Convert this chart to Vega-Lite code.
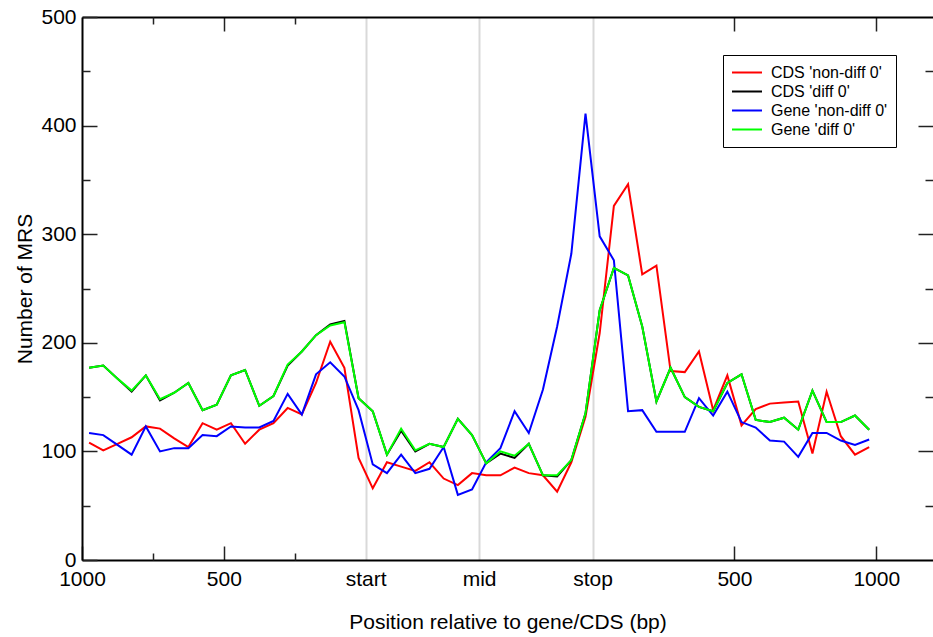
{
  "$schema": "https://vega.github.io/schema/vega-lite/v6.json",
  "width": 851,
  "height": 543,
  "autosize": {"type": "none"},
  "padding": {"left": 82, "top": 17, "right": 0, "bottom": 77},
  "background": "white",
  "config": {
    "view": {"stroke": null},
    "font": "Liberation Sans",
    "axis": {"labelFont": "Liberation Sans", "titleFont": "Liberation Sans", "labelColor": "black", "titleColor": "black", "titleFontWeight": "normal", "labelFlush": false, "labelOverlap": false, "domainColor": "black", "domainWidth": 2, "tickColor": "#222", "tickWidth": 1.5, "grid": false}
  },
  "datasets": {
    "d": []
  },
  "data": {
    "values": [
      {"s": "CDS 'non-diff 0'", "p": 0.5, "v": 108}, {"s": "CDS 'non-diff 0'", "p": 1.5, "v": 101}, {"s": "CDS 'non-diff 0'", "p": 2.5, "v": 107}, {"s": "CDS 'non-diff 0'", "p": 3.5, "v": 113}, {"s": "CDS 'non-diff 0'", "p": 4.5, "v": 123}, {"s": "CDS 'non-diff 0'", "p": 5.5, "v": 121}, {"s": "CDS 'non-diff 0'", "p": 6.5, "v": 112}, {"s": "CDS 'non-diff 0'", "p": 7.5, "v": 104}, {"s": "CDS 'non-diff 0'", "p": 8.5, "v": 126}, {"s": "CDS 'non-diff 0'", "p": 9.5, "v": 120},
      {"s": "CDS 'non-diff 0'", "p": 10.5, "v": 126}, {"s": "CDS 'non-diff 0'", "p": 11.5, "v": 107}, {"s": "CDS 'non-diff 0'", "p": 12.5, "v": 120}, {"s": "CDS 'non-diff 0'", "p": 13.5, "v": 126}, {"s": "CDS 'non-diff 0'", "p": 14.5, "v": 140}, {"s": "CDS 'non-diff 0'", "p": 15.5, "v": 134}, {"s": "CDS 'non-diff 0'", "p": 16.5, "v": 163}, {"s": "CDS 'non-diff 0'", "p": 17.5, "v": 201}, {"s": "CDS 'non-diff 0'", "p": 18.5, "v": 177}, {"s": "CDS 'non-diff 0'", "p": 19.5, "v": 94},
      {"s": "CDS 'non-diff 0'", "p": 20.5, "v": 66}, {"s": "CDS 'non-diff 0'", "p": 21.5, "v": 90}, {"s": "CDS 'non-diff 0'", "p": 22.5, "v": 86}, {"s": "CDS 'non-diff 0'", "p": 23.5, "v": 82}, {"s": "CDS 'non-diff 0'", "p": 24.5, "v": 90}, {"s": "CDS 'non-diff 0'", "p": 25.5, "v": 75}, {"s": "CDS 'non-diff 0'", "p": 26.5, "v": 69}, {"s": "CDS 'non-diff 0'", "p": 27.5, "v": 80}, {"s": "CDS 'non-diff 0'", "p": 28.5, "v": 78}, {"s": "CDS 'non-diff 0'", "p": 29.5, "v": 78},
      {"s": "CDS 'non-diff 0'", "p": 30.5, "v": 85}, {"s": "CDS 'non-diff 0'", "p": 31.5, "v": 80}, {"s": "CDS 'non-diff 0'", "p": 32.5, "v": 78}, {"s": "CDS 'non-diff 0'", "p": 33.5, "v": 63}, {"s": "CDS 'non-diff 0'", "p": 34.5, "v": 90}, {"s": "CDS 'non-diff 0'", "p": 35.5, "v": 132}, {"s": "CDS 'non-diff 0'", "p": 36.5, "v": 209}, {"s": "CDS 'non-diff 0'", "p": 37.5, "v": 326}, {"s": "CDS 'non-diff 0'", "p": 38.5, "v": 346}, {"s": "CDS 'non-diff 0'", "p": 39.5, "v": 263},
      {"s": "CDS 'non-diff 0'", "p": 40.5, "v": 271}, {"s": "CDS 'non-diff 0'", "p": 41.5, "v": 174}, {"s": "CDS 'non-diff 0'", "p": 42.5, "v": 173}, {"s": "CDS 'non-diff 0'", "p": 43.5, "v": 192}, {"s": "CDS 'non-diff 0'", "p": 44.5, "v": 138}, {"s": "CDS 'non-diff 0'", "p": 45.5, "v": 170}, {"s": "CDS 'non-diff 0'", "p": 46.5, "v": 124}, {"s": "CDS 'non-diff 0'", "p": 47.5, "v": 139}, {"s": "CDS 'non-diff 0'", "p": 48.5, "v": 144}, {"s": "CDS 'non-diff 0'", "p": 49.5, "v": 145},
      {"s": "CDS 'non-diff 0'", "p": 50.5, "v": 146}, {"s": "CDS 'non-diff 0'", "p": 51.5, "v": 98}, {"s": "CDS 'non-diff 0'", "p": 52.5, "v": 155}, {"s": "CDS 'non-diff 0'", "p": 53.5, "v": 114}, {"s": "CDS 'non-diff 0'", "p": 54.5, "v": 97}, {"s": "CDS 'non-diff 0'", "p": 55.5, "v": 104},

      {"s": "CDS 'diff 0'", "p": 0.5, "v": 177}, {"s": "CDS 'diff 0'", "p": 1.5, "v": 179}, {"s": "CDS 'diff 0'", "p": 2.5, "v": 167}, {"s": "CDS 'diff 0'", "p": 3.5, "v": 155}, {"s": "CDS 'diff 0'", "p": 4.5, "v": 170}, {"s": "CDS 'diff 0'", "p": 5.5, "v": 147}, {"s": "CDS 'diff 0'", "p": 6.5, "v": 154}, {"s": "CDS 'diff 0'", "p": 7.5, "v": 163}, {"s": "CDS 'diff 0'", "p": 8.5, "v": 138}, {"s": "CDS 'diff 0'", "p": 9.5, "v": 143},
      {"s": "CDS 'diff 0'", "p": 10.5, "v": 170}, {"s": "CDS 'diff 0'", "p": 11.5, "v": 175}, {"s": "CDS 'diff 0'", "p": 12.5, "v": 142}, {"s": "CDS 'diff 0'", "p": 13.5, "v": 151}, {"s": "CDS 'diff 0'", "p": 14.5, "v": 179}, {"s": "CDS 'diff 0'", "p": 15.5, "v": 192}, {"s": "CDS 'diff 0'", "p": 16.5, "v": 207}, {"s": "CDS 'diff 0'", "p": 17.5, "v": 217}, {"s": "CDS 'diff 0'", "p": 18.5, "v": 220}, {"s": "CDS 'diff 0'", "p": 19.5, "v": 149},
      {"s": "CDS 'diff 0'", "p": 20.5, "v": 137}, {"s": "CDS 'diff 0'", "p": 21.5, "v": 97}, {"s": "CDS 'diff 0'", "p": 22.5, "v": 119}, {"s": "CDS 'diff 0'", "p": 23.5, "v": 100}, {"s": "CDS 'diff 0'", "p": 24.5, "v": 107}, {"s": "CDS 'diff 0'", "p": 25.5, "v": 104}, {"s": "CDS 'diff 0'", "p": 26.5, "v": 130}, {"s": "CDS 'diff 0'", "p": 27.5, "v": 115}, {"s": "CDS 'diff 0'", "p": 28.5, "v": 89}, {"s": "CDS 'diff 0'", "p": 29.5, "v": 98},
      {"s": "CDS 'diff 0'", "p": 30.5, "v": 94}, {"s": "CDS 'diff 0'", "p": 31.5, "v": 107}, {"s": "CDS 'diff 0'", "p": 32.5, "v": 78}, {"s": "CDS 'diff 0'", "p": 33.5, "v": 77}, {"s": "CDS 'diff 0'", "p": 34.5, "v": 92}, {"s": "CDS 'diff 0'", "p": 35.5, "v": 135}, {"s": "CDS 'diff 0'", "p": 36.5, "v": 230}, {"s": "CDS 'diff 0'", "p": 37.5, "v": 269}, {"s": "CDS 'diff 0'", "p": 38.5, "v": 262}, {"s": "CDS 'diff 0'", "p": 39.5, "v": 215},
      {"s": "CDS 'diff 0'", "p": 40.5, "v": 146}, {"s": "CDS 'diff 0'", "p": 41.5, "v": 177}, {"s": "CDS 'diff 0'", "p": 42.5, "v": 150}, {"s": "CDS 'diff 0'", "p": 43.5, "v": 141}, {"s": "CDS 'diff 0'", "p": 44.5, "v": 137}, {"s": "CDS 'diff 0'", "p": 45.5, "v": 163}, {"s": "CDS 'diff 0'", "p": 46.5, "v": 171}, {"s": "CDS 'diff 0'", "p": 47.5, "v": 129}, {"s": "CDS 'diff 0'", "p": 48.5, "v": 127}, {"s": "CDS 'diff 0'", "p": 49.5, "v": 131},
      {"s": "CDS 'diff 0'", "p": 50.5, "v": 120}, {"s": "CDS 'diff 0'", "p": 51.5, "v": 156}, {"s": "CDS 'diff 0'", "p": 52.5, "v": 127}, {"s": "CDS 'diff 0'", "p": 53.5, "v": 127}, {"s": "CDS 'diff 0'", "p": 54.5, "v": 133}, {"s": "CDS 'diff 0'", "p": 55.5, "v": 120},

      {"s": "Gene 'non-diff 0'", "p": 0.5, "v": 117}, {"s": "Gene 'non-diff 0'", "p": 1.5, "v": 115}, {"s": "Gene 'non-diff 0'", "p": 2.5, "v": 106}, {"s": "Gene 'non-diff 0'", "p": 3.5, "v": 97}, {"s": "Gene 'non-diff 0'", "p": 4.5, "v": 123}, {"s": "Gene 'non-diff 0'", "p": 5.5, "v": 100}, {"s": "Gene 'non-diff 0'", "p": 6.5, "v": 103}, {"s": "Gene 'non-diff 0'", "p": 7.5, "v": 103}, {"s": "Gene 'non-diff 0'", "p": 8.5, "v": 115}, {"s": "Gene 'non-diff 0'", "p": 9.5, "v": 114},
      {"s": "Gene 'non-diff 0'", "p": 10.5, "v": 123}, {"s": "Gene 'non-diff 0'", "p": 11.5, "v": 122}, {"s": "Gene 'non-diff 0'", "p": 12.5, "v": 122}, {"s": "Gene 'non-diff 0'", "p": 13.5, "v": 128}, {"s": "Gene 'non-diff 0'", "p": 14.5, "v": 153}, {"s": "Gene 'non-diff 0'", "p": 15.5, "v": 134}, {"s": "Gene 'non-diff 0'", "p": 16.5, "v": 171}, {"s": "Gene 'non-diff 0'", "p": 17.5, "v": 182}, {"s": "Gene 'non-diff 0'", "p": 18.5, "v": 169}, {"s": "Gene 'non-diff 0'", "p": 19.5, "v": 138},
      {"s": "Gene 'non-diff 0'", "p": 20.5, "v": 88}, {"s": "Gene 'non-diff 0'", "p": 21.5, "v": 80}, {"s": "Gene 'non-diff 0'", "p": 22.5, "v": 97}, {"s": "Gene 'non-diff 0'", "p": 23.5, "v": 80}, {"s": "Gene 'non-diff 0'", "p": 24.5, "v": 84}, {"s": "Gene 'non-diff 0'", "p": 25.5, "v": 104}, {"s": "Gene 'non-diff 0'", "p": 26.5, "v": 60}, {"s": "Gene 'non-diff 0'", "p": 27.5, "v": 65}, {"s": "Gene 'non-diff 0'", "p": 28.5, "v": 90}, {"s": "Gene 'non-diff 0'", "p": 29.5, "v": 103},
      {"s": "Gene 'non-diff 0'", "p": 30.5, "v": 137}, {"s": "Gene 'non-diff 0'", "p": 31.5, "v": 117}, {"s": "Gene 'non-diff 0'", "p": 32.5, "v": 157}, {"s": "Gene 'non-diff 0'", "p": 33.5, "v": 215}, {"s": "Gene 'non-diff 0'", "p": 34.5, "v": 282}, {"s": "Gene 'non-diff 0'", "p": 35.5, "v": 411}, {"s": "Gene 'non-diff 0'", "p": 36.5, "v": 298}, {"s": "Gene 'non-diff 0'", "p": 37.5, "v": 276}, {"s": "Gene 'non-diff 0'", "p": 38.5, "v": 137}, {"s": "Gene 'non-diff 0'", "p": 39.5, "v": 138},
      {"s": "Gene 'non-diff 0'", "p": 40.5, "v": 118}, {"s": "Gene 'non-diff 0'", "p": 41.5, "v": 118}, {"s": "Gene 'non-diff 0'", "p": 42.5, "v": 118}, {"s": "Gene 'non-diff 0'", "p": 43.5, "v": 149}, {"s": "Gene 'non-diff 0'", "p": 44.5, "v": 133}, {"s": "Gene 'non-diff 0'", "p": 45.5, "v": 155}, {"s": "Gene 'non-diff 0'", "p": 46.5, "v": 127}, {"s": "Gene 'non-diff 0'", "p": 47.5, "v": 122}, {"s": "Gene 'non-diff 0'", "p": 48.5, "v": 110}, {"s": "Gene 'non-diff 0'", "p": 49.5, "v": 109},
      {"s": "Gene 'non-diff 0'", "p": 50.5, "v": 95}, {"s": "Gene 'non-diff 0'", "p": 51.5, "v": 117}, {"s": "Gene 'non-diff 0'", "p": 52.5, "v": 117}, {"s": "Gene 'non-diff 0'", "p": 53.5, "v": 110}, {"s": "Gene 'non-diff 0'", "p": 54.5, "v": 106}, {"s": "Gene 'non-diff 0'", "p": 55.5, "v": 111},

      {"s": "Gene 'diff 0'", "p": 0.5, "v": 177}, {"s": "Gene 'diff 0'", "p": 1.5, "v": 179}, {"s": "Gene 'diff 0'", "p": 2.5, "v": 167}, {"s": "Gene 'diff 0'", "p": 3.5, "v": 156}, {"s": "Gene 'diff 0'", "p": 4.5, "v": 170}, {"s": "Gene 'diff 0'", "p": 5.5, "v": 148}, {"s": "Gene 'diff 0'", "p": 6.5, "v": 154}, {"s": "Gene 'diff 0'", "p": 7.5, "v": 163}, {"s": "Gene 'diff 0'", "p": 8.5, "v": 138}, {"s": "Gene 'diff 0'", "p": 9.5, "v": 143},
      {"s": "Gene 'diff 0'", "p": 10.5, "v": 170}, {"s": "Gene 'diff 0'", "p": 11.5, "v": 175}, {"s": "Gene 'diff 0'", "p": 12.5, "v": 142}, {"s": "Gene 'diff 0'", "p": 13.5, "v": 151}, {"s": "Gene 'diff 0'", "p": 14.5, "v": 180}, {"s": "Gene 'diff 0'", "p": 15.5, "v": 192}, {"s": "Gene 'diff 0'", "p": 16.5, "v": 207}, {"s": "Gene 'diff 0'", "p": 17.5, "v": 216}, {"s": "Gene 'diff 0'", "p": 18.5, "v": 219}, {"s": "Gene 'diff 0'", "p": 19.5, "v": 149},
      {"s": "Gene 'diff 0'", "p": 20.5, "v": 137}, {"s": "Gene 'diff 0'", "p": 21.5, "v": 97}, {"s": "Gene 'diff 0'", "p": 22.5, "v": 121}, {"s": "Gene 'diff 0'", "p": 23.5, "v": 101}, {"s": "Gene 'diff 0'", "p": 24.5, "v": 107}, {"s": "Gene 'diff 0'", "p": 25.5, "v": 104}, {"s": "Gene 'diff 0'", "p": 26.5, "v": 130}, {"s": "Gene 'diff 0'", "p": 27.5, "v": 115}, {"s": "Gene 'diff 0'", "p": 28.5, "v": 89}, {"s": "Gene 'diff 0'", "p": 29.5, "v": 100},
      {"s": "Gene 'diff 0'", "p": 30.5, "v": 96}, {"s": "Gene 'diff 0'", "p": 31.5, "v": 107}, {"s": "Gene 'diff 0'", "p": 32.5, "v": 78}, {"s": "Gene 'diff 0'", "p": 33.5, "v": 78}, {"s": "Gene 'diff 0'", "p": 34.5, "v": 92}, {"s": "Gene 'diff 0'", "p": 35.5, "v": 135}, {"s": "Gene 'diff 0'", "p": 36.5, "v": 230}, {"s": "Gene 'diff 0'", "p": 37.5, "v": 269}, {"s": "Gene 'diff 0'", "p": 38.5, "v": 262}, {"s": "Gene 'diff 0'", "p": 39.5, "v": 215},
      {"s": "Gene 'diff 0'", "p": 40.5, "v": 146}, {"s": "Gene 'diff 0'", "p": 41.5, "v": 177}, {"s": "Gene 'diff 0'", "p": 42.5, "v": 150}, {"s": "Gene 'diff 0'", "p": 43.5, "v": 141}, {"s": "Gene 'diff 0'", "p": 44.5, "v": 137}, {"s": "Gene 'diff 0'", "p": 45.5, "v": 163}, {"s": "Gene 'diff 0'", "p": 46.5, "v": 171}, {"s": "Gene 'diff 0'", "p": 47.5, "v": 129}, {"s": "Gene 'diff 0'", "p": 48.5, "v": 127}, {"s": "Gene 'diff 0'", "p": 49.5, "v": 131},
      {"s": "Gene 'diff 0'", "p": 50.5, "v": 120}, {"s": "Gene 'diff 0'", "p": 51.5, "v": 156}, {"s": "Gene 'diff 0'", "p": 52.5, "v": 127}, {"s": "Gene 'diff 0'", "p": 53.5, "v": 127}, {"s": "Gene 'diff 0'", "p": 54.5, "v": 133}, {"s": "Gene 'diff 0'", "p": 55.5, "v": 120}
    ]
  },
  "resolve": {"axis": {"x": "independent", "y": "independent"}},
  "layer": [
    {
      "mark": {"type": "line", "strokeWidth": 2},
      "encoding": {
        "x": {"field": "p", "type": "quantitative",
          "scale": {"domain": [0, 60], "nice": false, "zero": false},
          "axis": {"orient": "bottom", "values": [0, 10, 20, 28, 36, 46, 56],
            "labelExpr": "datum.value == 0 ? '1000' : datum.value == 10 ? '500' : datum.value == 20 ? 'start' : datum.value == 28 ? 'mid' : datum.value == 36 ? 'stop' : datum.value == 46 ? '500' : '1000'",
            "labelFontSize": 21, "labelPadding": 22, "labelBaseline": "top",
            "tickSize": -14,
            "tickColor": {"condition": {"test": "datum.value == 20 || datum.value == 28 || datum.value == 36", "value": "transparent"}, "value": "#222"},
            "grid": true,
            "gridColor": {"condition": {"test": "datum.value == 20 || datum.value == 28 || datum.value == 36", "value": "#d9d9d9"}, "value": "transparent"},
            "gridWidth": 2,
            "title": "Position relative to gene/CDS (bp)", "titleFontSize": 21, "titleBaseline": "alphabetic", "titleY": 68
          }
        },
        "y": {"field": "v", "type": "quantitative",
          "scale": {"domain": [0, 500], "nice": false},
          "axis": {"orient": "left", "values": [0, 100, 200, 300, 400, 500],
            "labelFontSize": 21, "labelPadding": 21, "tickSize": -15,
            "title": "Number of MRS", "titleFontSize": 21, "titleX": -47, "titleY": 271.5
          }
        },
        "color": {"field": "s", "type": "nominal",
          "scale": {"domain": ["CDS 'non-diff 0'", "CDS 'diff 0'", "Gene 'non-diff 0'", "Gene 'diff 0'"], "range": ["#ff0000", "#000000", "#0000ff", "#00ff00"]},
          "legend": {"orient": "none", "legendX": 641, "legendY": 38, "title": null,
            "symbolType": "stroke", "symbolSize": 900, "symbolStrokeWidth": 2,
            "labelFontSize": 16, "labelFont": "Liberation Sans", "labelColor": "black", "labelOffset": 8,
            "clipHeight": 19, "rowPadding": 0, "padding": 8,
            "strokeColor": "black", "fillColor": "white"}
        }
      }
    },
    {
      "mark": {"type": "point", "opacity": 0},
      "encoding": {
        "x": {"field": "p", "type": "quantitative",
          "axis": {"orient": "bottom", "values": [5, 15], "labels": false, "domain": false, "tickSize": -7, "title": null}},
        "y": {"field": "v", "type": "quantitative",
          "axis": {"orient": "left", "values": [50, 150, 250, 350, 450], "labels": false, "domain": false, "tickSize": -8, "title": null}}
      }
    },
    {
      "mark": {"type": "point", "opacity": 0},
      "encoding": {
        "x": {"field": "p", "type": "quantitative",
          "axis": {"orient": "top", "values": [10, 46, 56], "labels": false, "domain": true, "tickSize": -14, "title": null}},
        "y": {"field": "v", "type": "quantitative",
          "axis": {"orient": "right", "values": [100, 200, 300, 400], "labels": false, "domain": false, "tickSize": -15, "title": null}}
      }
    },
    {
      "mark": {"type": "point", "opacity": 0},
      "encoding": {
        "x": {"field": "p", "type": "quantitative",
          "axis": {"orient": "top", "values": [5, 15], "labels": false, "domain": false, "tickSize": -7, "title": null}},
        "y": {"field": "v", "type": "quantitative",
          "axis": {"orient": "right", "values": [50, 150, 250, 350, 450], "labels": false, "domain": false, "tickSize": -8, "title": null}}
      }
    }
  ]
}
